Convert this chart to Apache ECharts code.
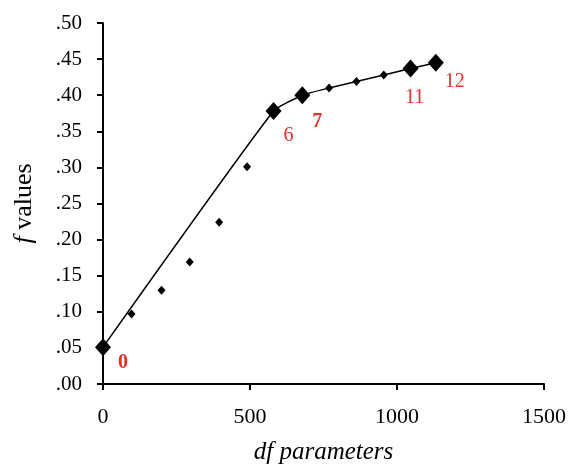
<!DOCTYPE html>
<html>
<head>
<meta charset="utf-8">
<script src="https://cdn.jsdelivr.net/npm/echarts@6/dist/echarts.min.js"></script>
<style>
  html, body { margin: 0; padding: 0; background: #fff; }
  #chart { width: 571px; height: 464px; }
</style>
</head>
<body>
<div id="chart"></div>
<script>
// numbered models (big diamonds)
var bigX = [0, 580, 678, 1046, 1132];
var bigY = [0.051, 0.378, 0.400, 0.437, 0.445];
var bigLabels = ['0', '6', '7', '11', '12'];
// intermediate models (small diamonds)
var smallX = [97, 199, 295, 395, 490, 769, 862, 955];
var smallY = [0.097, 0.130, 0.169, 0.224, 0.301, 0.410, 0.419, 0.428];
// fitted curve
var lineX = [0, 580, 678, 769, 862, 955, 1046, 1132];
var lineY = [0.051, 0.378, 0.400, 0.410, 0.419, 0.428, 0.437, 0.445];
var xTicks = [0, 500, 1000, 1500];
var yTicks = [0, 0.05, 0.10, 0.15, 0.20, 0.25, 0.30, 0.35, 0.40, 0.45, 0.50];

var labelOffsets = [[20, 16], [15, 25], [15, 27], [4, 29], [19, 19]];
var labelBold = [true, false, true, false, false];

var font = '"Liberation Serif", "DejaVu Serif", serif';
var chart = echarts.init(document.getElementById('chart'));

var bigData = bigX.map(function (x, i) {
  return {
    value: [x, bigY[i]],
    label: {
      show: true,
      formatter: bigLabels[i],
      position: 'inside',
      offset: labelOffsets[i],
      color: '#e8302a',
      fontFamily: font,
      fontSize: 20,
      fontWeight: labelBold[i] ? 'bold' : 'normal'
    }
  };
});

var option = {
  backgroundColor: '#fff',
  animation: false,
  grid: { left: 103, right: 27, top: 23, bottom: 80, containLabel: false, outerBoundsMode: 'none' },
  xAxis: {
    type: 'value',
    min: xTicks[0],
    max: xTicks[xTicks.length - 1],
    interval: 500,
    name: 'df parameters',
    nameLocation: 'middle',
    nameGap: 56,
    nameTextStyle: { fontFamily: font, fontStyle: 'italic', fontSize: 25, color: '#000' },
    axisLine: { lineStyle: { color: '#000', width: 2 } },
    axisTick: { show: true, length: 6, lineStyle: { color: '#000', width: 2 } },
    axisLabel: {
      fontFamily: font, fontSize: 22, color: '#000', margin: 22,
      formatter: function (v) { return String(v); }
    },
    splitLine: { show: false }
  },
  yAxis: {
    type: 'value',
    min: yTicks[0],
    max: yTicks[yTicks.length - 1],
    interval: 0.05,
    name: '{i|f} values',
    nameLocation: 'middle',
    nameGap: 66,
    nameTextStyle: {
      fontFamily: font, fontSize: 26, color: '#000',
      rich: { i: { fontFamily: font, fontStyle: 'italic', fontSize: 26, color: '#000' } }
    },
    axisLine: { show: true, lineStyle: { color: '#000', width: 2 } },
    axisTick: { show: true, length: 6, lineStyle: { color: '#000', width: 2 } },
    axisLabel: {
      fontFamily: font, fontSize: 21, color: '#000', margin: 21,
      formatter: function (v) { return v.toFixed(2).replace(/^0/, ''); }
    },
    splitLine: { show: false }
  },
  series: [
    {
      type: 'line',
      data: lineX.map(function (x, i) { return [x, lineY[i]]; }),
      symbol: 'none',
      smooth: 0.15,
      lineStyle: { color: '#000', width: 1.5 },
      z: 1
    },
    {
      type: 'scatter',
      data: smallX.map(function (x, i) { return [x, smallY[i]]; }),
      symbol: 'diamond',
      symbolSize: [8, 9],
      itemStyle: { color: '#000', opacity: 1 },
      z: 2
    },
    {
      type: 'scatter',
      data: bigData,
      symbol: 'diamond',
      symbolSize: [16, 18],
      itemStyle: { color: '#000', opacity: 1 },
      z: 3
    }
  ]
};
chart.setOption(option);
</script>
</body>
</html>
